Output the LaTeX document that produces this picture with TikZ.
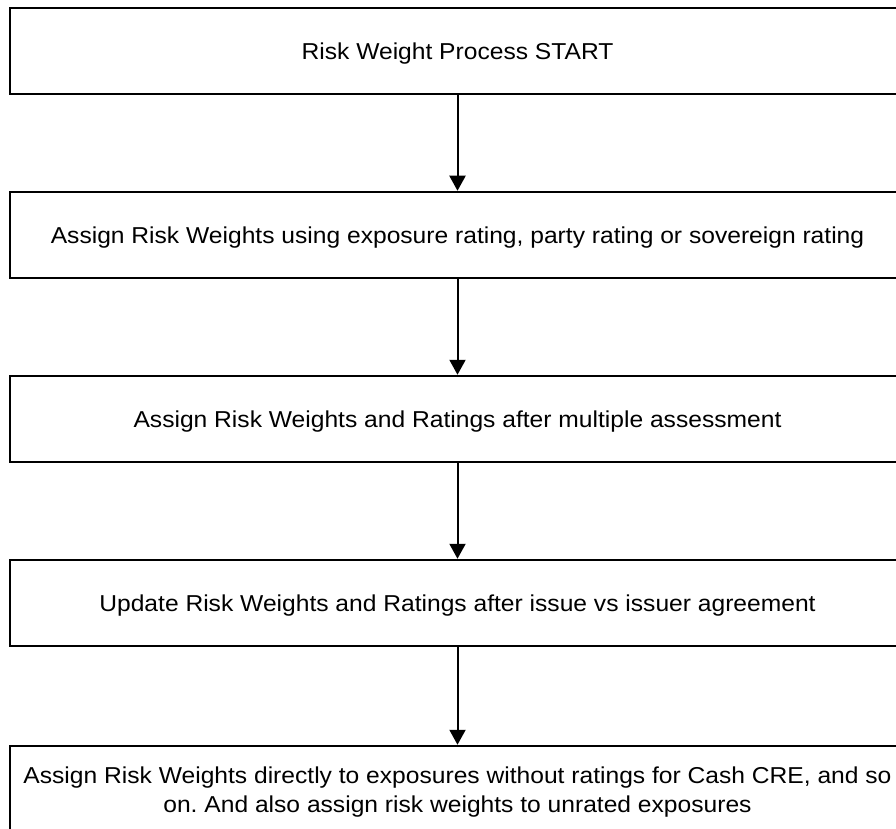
\documentclass[tikz,border=0pt]{standalone}
\usepackage{fontspec}
\setmainfont{Liberation Sans}[FakeStretch=1.07]
\frenchspacing
\usetikzlibrary{arrows.meta}
\begin{document}
\begin{tikzpicture}[x=1pt,y=-1pt,
  box/.style={draw=black,line width=2.5pt,fill=white,minimum width=895pt,minimum height=86pt,inner sep=0pt},
  txt/.style={inner sep=0pt,align=center,font=\fontsize{23}{29}\selectfont},
  conn/.style={line width=2pt,-{Triangle[width=16pt,length=15pt]}}]
\useasboundingbox (0,0) rectangle (896,829);
\clip (0,0) rectangle (896,829);
\node[box] (b1) at (457.5,51) {};
\node[box] (b2) at (457.5,235) {};
\node[box] (b3) at (457.5,419) {};
\node[box] (b4) at (457.5,603) {};
\node[box] (b5) at (457.5,789) {};
\node[txt] (t1) at ([yshift=-3pt]b1.center) {Risk Weight Process START};
\node[txt] (t2) at ([yshift=-3pt]b2.center) {Assign Risk Weights using exposure rating, party rating or sovereign rating};
\node[txt] (t3) at ([yshift=-3pt]b3.center) {Assign Risk Weights and Ratings after multiple assessment};
\node[txt] (t4) at ([yshift=-3pt]b4.center) {Update Risk Weights and Ratings after issue vs issuer agreement};
\node[txt] (t5) at ([yshift=-3pt]b5.center) {Assign Risk Weights directly to exposures without ratings for Cash CRE, and so\\on. And also assign risk weights to unrated exposures};
\draw[conn] (b1) -- (b2);
\draw[conn] (b2) -- (b3);
\draw[conn] (b3) -- (b4);
\draw[conn] (b4) -- (b5);
\end{tikzpicture}
\end{document}
